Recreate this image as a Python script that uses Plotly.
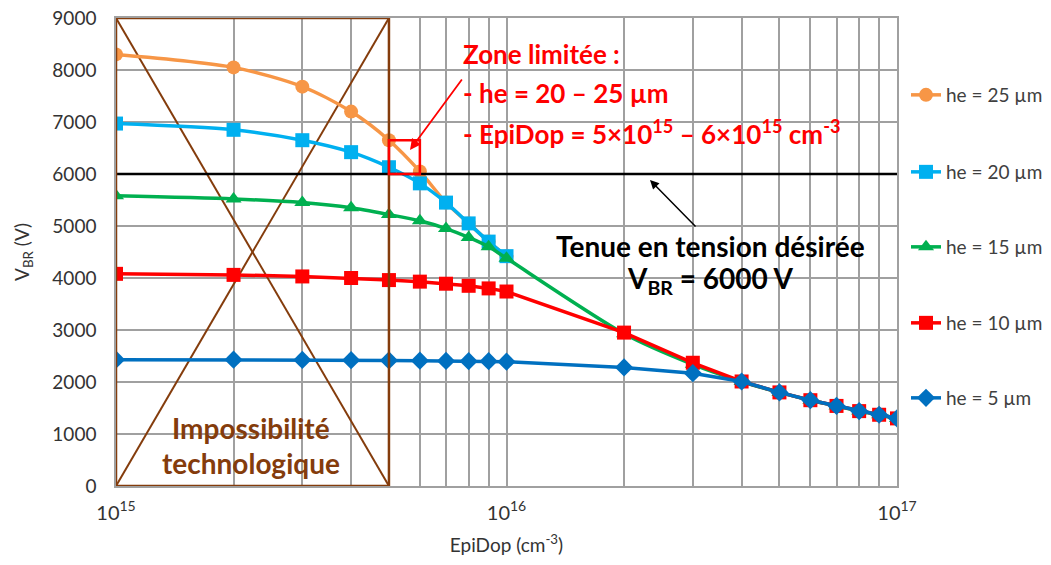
import plotly.graph_objects as go

# ---- data ----
x_all = [1e15, 2e15, 3e15, 4e15, 5e15, 6e15, 7e15, 8e15, 9e15, 1e16,
         2e16, 3e16, 4e16, 5e16, 6e16, 7e16, 8e16, 9e16, 1e17]
x_low = x_all[:10]

vbr_25 = [8300, 8050, 7680, 7200, 6650, 6050, 5450, 5050, 4700, 4420]
vbr_20 = [6970, 6850, 6650, 6420, 6130, 5820, 5450, 5050, 4700, 4420]
vbr_15 = [5580, 5520, 5450, 5350, 5220, 5100, 4950, 4780, 4600, 4380,
          2930, 2340, 2010, 1800, 1650, 1540, 1440, 1370, 1300]
vbr_10 = [4080, 4060, 4030, 4000, 3960, 3930, 3890, 3850, 3800, 3740,
          2950, 2370, 2010, 1800, 1650, 1540, 1440, 1370, 1300]
vbr_5 = [2430, 2430, 2425, 2420, 2415, 2410, 2405, 2400, 2400, 2390,
         2280, 2170, 2010, 1800, 1650, 1540, 1440, 1370, 1300]

series_names = ["he = 25 µm", "he = 20 µm", "he = 15 µm", "he = 10 µm", "he = 5 µm"]
target_vbr = 6000
zone_x = [5e15, 6e15]
zone_y = [6000, 6650]
impossible_x = [1e15, 5e15]

# ---- figure (page has an 8px body margin) ----
OFF = 8
W, H = 1051 - 2 * OFF, 565 - 2 * OFF
PL, PR, PT, PB = 116, 897, 18, 486  # plot area in page pixels
L, T = PL - OFF, PT - OFF
R = W - (PR - OFF)
B = H - (PB - OFF)
pw, ph = PR - PL, PB - PT

def px_x(p):
    return (p - PL) / pw

def px_y(p):
    return (PB - p) / ph

fig = go.Figure()

styles = [
    dict(color="#F79646", symbol="circle", shape="spline"),
    dict(color="#00B0F0", symbol="square", shape="spline"),
    dict(color="#00B050", symbol="triangle-up", shape="spline"),
    dict(color="#FF0000", symbol="square", shape="linear"),
    dict(color="#0070C0", symbol="diamond", shape="linear"),
]
data_sets = [(x_low, vbr_25), (x_low, vbr_20), (x_all, vbr_15), (x_all, vbr_10), (x_all, vbr_5)]
legend_ids = ["legend", "legend2", "legend3", "legend4", "legend5"]
legend_py = [95, 172, 247, 323, 398]

for (xs, ys), st, name, lid in zip(data_sets, styles, series_names, legend_ids):
    fig.add_trace(go.Scatter(
        x=xs, y=ys, name=name, mode="lines+markers",
        line=dict(color=st["color"], width=3.5, shape=st["shape"], smoothing=0.8),
        marker=dict(color=st["color"], symbol=st["symbol"], size=14),
        legend=lid,
    ))

# target line
fig.add_trace(go.Scatter(x=[x_all[0], x_all[-1]], y=[target_vbr, target_vbr], mode="lines",
                         line=dict(color="black", width=2.5), showlegend=False, hoverinfo="skip"))

brown = "#843C0C"
shapes = [
    dict(type="rect", xref="x", yref="y", x0=impossible_x[0], x1=impossible_x[1], y0=0, y1=9000,
         line=dict(color=brown, width=2.5), layer="above"),
    dict(type="line", xref="x", yref="y", x0=impossible_x[0], x1=impossible_x[1], y0=9000, y1=0,
         line=dict(color=brown, width=2), layer="between"),
    dict(type="line", xref="x", yref="y", x0=impossible_x[0], x1=impossible_x[1], y0=0, y1=9000,
         line=dict(color=brown, width=2), layer="between"),
    dict(type="rect", xref="x", yref="y", x0=zone_x[0], x1=zone_x[1], y0=zone_y[0], y1=zone_y[1],
         line=dict(color="#FF0000", width=2.5), layer="above"),
]

font_fam = "Lato, 'Open Sans', sans-serif"
annotations = []
# Impossibilité technologique
for txt, py in [("Impossibilité", 428), ("technologique", 463)]:
    annotations.append(dict(xref="paper", yref="paper", x=px_x(251), y=px_y(py), text=txt,
                            showarrow=False, xanchor="center", yanchor="middle",
                            font=dict(family=font_fam, size=28, color=brown, weight="bold")))
# Zone limitée
for txt, py in [("Zone limitée :", 54), ("- he = 20 – 25 µm", 93),
                ("- EpiDop = 5×10<sup>15</sup> – 6×10<sup>15</sup> cm<sup>-3</sup>", 132)]:
    annotations.append(dict(xref="paper", yref="paper", x=px_x(461), y=px_y(py), text=txt,
                            showarrow=False, xanchor="left", yanchor="middle",
                            font=dict(family=font_fam, size=26, color="#FF0000", weight="bold")))
# Tenue en tension
for txt, py in [("Tenue en tension désirée", 246), ("V<sub>BR</sub> = 6000 V", 280)]:
    annotations.append(dict(xref="paper", yref="paper", x=px_x(710), y=px_y(py), text=txt,
                            showarrow=False, xanchor="center", yanchor="middle",
                            font=dict(family=font_fam, size=28, color="black", weight="bold")))
# arrows
annotations.append(dict(xref="paper", yref="paper", x=px_x(410), y=px_y(150), text="",
                        showarrow=True, ax=53, ay=-72, arrowcolor="#FF0000", arrowwidth=1.8,
                        arrowhead=2, arrowsize=1.2))
annotations.append(dict(xref="paper", yref="paper", x=px_x(650), y=px_y(180), text="",
                        showarrow=True, ax=47, ay=48, arrowcolor="black", arrowwidth=1.5,
                        arrowhead=2, arrowsize=1.2))

# ticks
tickvals = []
ticktext = []
for dec in [15, 16]:
    for m in range(1, 10):
        tickvals.append(m * 10 ** dec)
        ticktext.append(f"10<sup>{dec}</sup>" if m == 1 else "")
tickvals.append(1e17)
ticktext.append("10<sup>17</sup>")

legends = {}
for lid, py in zip(legend_ids, legend_py):
    legends[lid] = dict(x=px_x(906), y=px_y(py), xanchor="left", yanchor="middle",
                        bgcolor="rgba(0,0,0,0)", font=dict(family=font_fam, size=19, color="#404040"),
                        itemwidth=30)

fig.update_layout(
    width=W, height=H,
    margin=dict(l=L, r=R, t=T, b=B, autoexpand=False),
    plot_bgcolor="white", paper_bgcolor="white",
    font=dict(family=font_fam, color="#404040"),
    shapes=shapes, annotations=annotations,
    xaxis=dict(type="log", range=[15, 17], tickvals=tickvals, ticktext=ticktext,
               showgrid=True, gridcolor="#A0A0A0", gridwidth=1.5, zeroline=False,
               showline=True, mirror=True, linecolor="#A0A0A0", linewidth=1.5, ticks="",
               ticklabelstandoff=8, automargin=False, ticklabeloverflow="allow",
               tickfont=dict(size=20, color="#333333"),
               title=dict(text="EpiDop (cm<sup>-3</sup>)", font=dict(size=19, color="#333333"), standoff=16)),
    yaxis=dict(range=[0, 9000], dtick=1000, showgrid=True, gridcolor="#A0A0A0", gridwidth=1.5,
               zeroline=False, ticks="", ticklabelstandoff=14, automargin=False,
               showline=True, mirror=True, linecolor="#A0A0A0", linewidth=1.5,
               ticklabeloverflow="allow",
               tickfont=dict(size=19, color="#333333"),
               title=dict(text="V<sub>BR</sub> (V)", font=dict(size=19, color="#333333"), standoff=18)),
    **legends,
)

fig.write_html("out.html")
